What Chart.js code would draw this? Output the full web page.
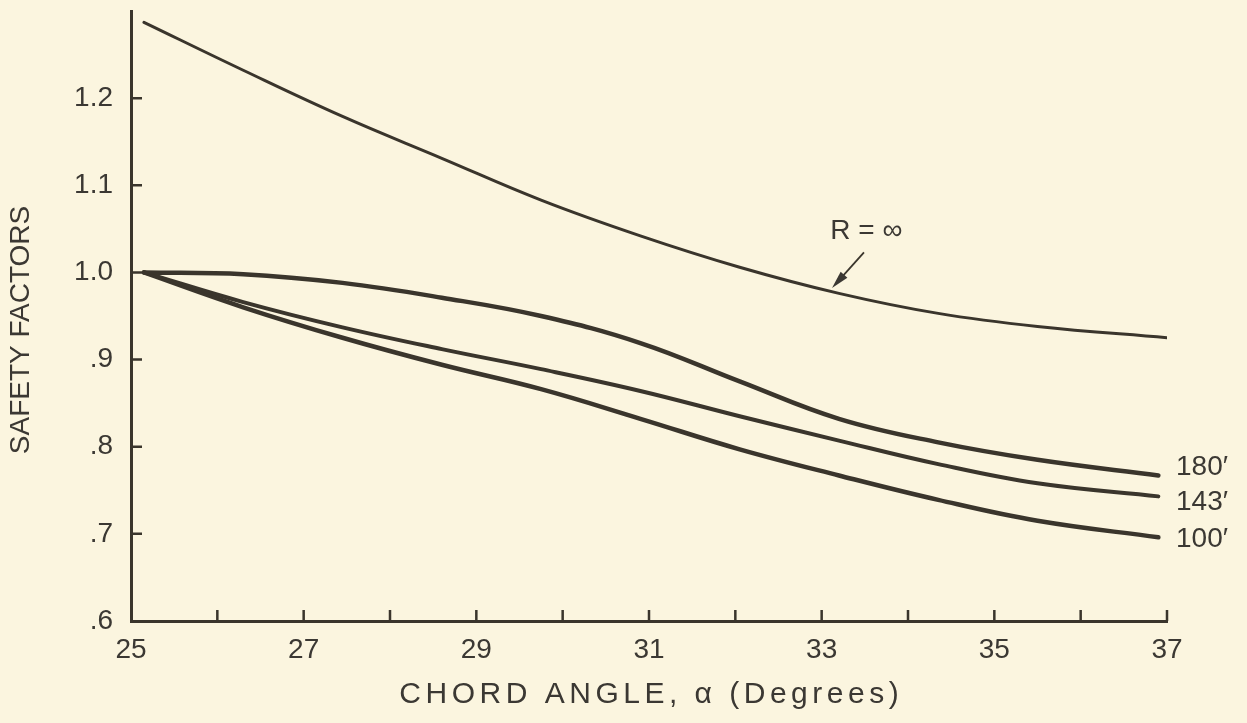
<!DOCTYPE html>
<html>
<head>
<meta charset="utf-8">
<script src="https://cdn.jsdelivr.net/npm/chart.js@4/dist/chart.umd.min.js"></script>
<style>
  html, body { margin: 0; padding: 0; background: #fbf5df; }
  #wrap { width: 1247px; height: 723px; }
</style>
</head>
<body>
<div id="wrap"><canvas id="chart" width="1247" height="723"></canvas></div>
<script>
// Chord angle (degrees) and safety factor for each radius
const chordAngle = [25.15, 26.3, 27.45, 28.6, 29.75, 30.9, 32.05, 33.2, 34.35, 35.5, 36.9];
const infAngle   = [25.15, 26.3, 27.45, 28.6, 29.75, 30.9, 32.05, 33.2, 34.35, 35.5, 37.0];

const rInfSF = [1.287, 1.232, 1.179, 1.131, 1.083, 1.042, 1.006, 0.976, 0.953, 0.938, 0.925];
const r180SF = [1.0, 0.998, 0.988, 0.971, 0.950, 0.919, 0.875, 0.832, 0.805, 0.785, 0.767];
const r143SF = [1.0, 0.966, 0.937, 0.912, 0.889, 0.864, 0.835, 0.807, 0.780, 0.758, 0.743];
const r100SF = [1.0, 0.960, 0.925, 0.894, 0.866, 0.832, 0.797, 0.767, 0.739, 0.715, 0.696];

const curveLabels = ["180\u2032", "143\u2032", "100\u2032"];
const curveLabelSF = [0.776, 0.736, 0.694];

const xTicks = [25, 26, 27, 28, 29, 30, 31, 32, 33, 34, 35, 36, 37];
const yTicks = [0.6, 0.7, 0.8, 0.9, 1.0, 1.1, 1.2];

const xTitle = "CHORD ANGLE, \u03B1 (Degrees)";
const yTitle = "SAFETY FACTORS";
const infLabel = "R = \u221E";
const infLabelAt = { x: 33.1, y: 1.047 };
const infArrowFrom = { x: 33.49, y: 1.023 };
const infArrowTo = { x: 33.12, y: 0.982 };

const ink = "#3a352c";
const textInk = "#3b3833";
const fontFamily = "'Liberation Sans', Arial, Helvetica, sans-serif";

const pts = (xs, ys) => xs.map((x, i) => ({ x, y: ys[i] }));

// draw a centred string with extra space between the letters
function spacedText(ctx, text, cx, cy, spacing) {
  const chars = Array.from(text);
  const widths = chars.map(c => ctx.measureText(c).width);
  const total = widths.reduce((a, b) => a + b, 0) + spacing * (chars.length - 1);
  let x = cx - total / 2;
  ctx.textAlign = "left";
  ctx.textBaseline = "middle";
  chars.forEach((c, i) => {
    ctx.fillText(c, x, cy);
    x += widths[i] + spacing;
  });
}

const bgPlugin = {
  id: "paper",
  beforeDraw(chart) {
    const { ctx, width, height } = chart;
    ctx.save();
    ctx.fillStyle = "#fbf5df";
    ctx.fillRect(0, 0, width, height);
    ctx.restore();
  }
};

const decorPlugin = {
  id: "decor",
  afterDraw(chart) {
    const { ctx, chartArea } = chart;
    const xs = chart.scales.x, ys = chart.scales.y;
    ctx.save();
    // inward tick marks
    ctx.strokeStyle = ink;
    ctx.lineWidth = 2.5;
    ctx.beginPath();
    xTicks.slice(1).forEach(v => {
      const px = xs.getPixelForValue(v);
      ctx.moveTo(px, chartArea.bottom);
      ctx.lineTo(px, chartArea.bottom - 11);
    });
    yTicks.slice(1).forEach(v => {
      const py = ys.getPixelForValue(v);
      ctx.moveTo(chartArea.left, py);
      ctx.lineTo(chartArea.left + 11, py);
    });
    ctx.stroke();

    // curve labels at the right end
    ctx.fillStyle = textInk;
    ctx.font = "28px " + fontFamily;
    ctx.textAlign = "left";
    ctx.textBaseline = "middle";
    curveLabels.forEach((t, i) => {
      ctx.fillText(t, chartArea.right + 9, ys.getPixelForValue(curveLabelSF[i]));
    });

    // R = infinity label with arrow
    ctx.fillText(infLabel, xs.getPixelForValue(infLabelAt.x), ys.getPixelForValue(infLabelAt.y));
    const x0 = xs.getPixelForValue(infArrowFrom.x), y0 = ys.getPixelForValue(infArrowFrom.y);
    const x1 = xs.getPixelForValue(infArrowTo.x), y1 = ys.getPixelForValue(infArrowTo.y);
    const ang = Math.atan2(y1 - y0, x1 - x0);
    ctx.lineWidth = 1.8;
    ctx.beginPath();
    ctx.moveTo(x0, y0);
    ctx.lineTo(x1 - 12 * Math.cos(ang), y1 - 12 * Math.sin(ang));
    ctx.stroke();
    const headLen = 18, headW = 4.5;
    const bx = x1 - headLen * Math.cos(ang), by = y1 - headLen * Math.sin(ang);
    ctx.beginPath();
    ctx.moveTo(x1, y1);
    ctx.lineTo(bx + headW * Math.sin(ang), by - headW * Math.cos(ang));
    ctx.lineTo(bx - headW * Math.sin(ang), by + headW * Math.cos(ang));
    ctx.closePath();
    ctx.fill();

    // vertical axis title
    ctx.save();
    ctx.translate(21, 330);
    ctx.rotate(-Math.PI / 2);
    ctx.textAlign = "center";
    ctx.textBaseline = "middle";
    ctx.fillText(yTitle, 0, 0);
    ctx.restore();

    // horizontal axis title
    ctx.font = "30px " + fontFamily;
    spacedText(ctx, xTitle, (chartArea.left + chartArea.right) / 2, 695, 4.5);
    ctx.restore();
  }
};

const lineDefaults = {
  borderColor: ink,
  pointRadius: 0,
  fill: false,
  tension: 0.4,
  borderCapStyle: "round",
  borderJoinStyle: "round"
};

new Chart(document.getElementById("chart"), {
  type: "line",
  data: {
    datasets: [
      { ...lineDefaults, label: "R = \u221E", data: pts(infAngle, rInfSF), borderWidth: 3 },
      { ...lineDefaults, label: "180\u2032", data: pts(chordAngle, r180SF), borderWidth: 4.5 },
      { ...lineDefaults, label: "143\u2032", data: pts(chordAngle, r143SF), borderWidth: 4 },
      { ...lineDefaults, label: "100\u2032", data: pts(chordAngle, r100SF), borderWidth: 4.5 }
    ]
  },
  options: {
    responsive: false,
    animation: false,
    devicePixelRatio: 1,
    layout: { padding: { top: 11, right: 80, left: 0, bottom: 0 } },
    plugins: { legend: { display: false }, tooltip: { enabled: false } },
    scales: {
      x: {
        type: "linear",
        min: 25,
        max: 37,
        afterBuildTicks: s => { s.ticks = xTicks.map(v => ({ value: v })); },
        afterFit: s => { s.height = 102; s.paddingLeft = 0; s.paddingRight = 0; },
        border: { display: true, color: ink, width: 3 },
        grid: { display: false, drawOnChartArea: false, drawTicks: false },
        ticks: {
          autoSkip: false,
          maxRotation: 0,
          padding: 12,
          color: textInk,
          font: { family: fontFamily, size: 28 },
          callback: v => (v % 2 === 1 ? String(v) : "")
        }
      },
      y: {
        type: "linear",
        min: 0.6,
        max: 1.3,
        afterBuildTicks: s => { s.ticks = yTicks.map(v => ({ value: v })); },
        afterFit: s => { s.width = 131; s.paddingTop = 0; s.paddingBottom = 0; },
        border: { display: true, color: ink, width: 3 },
        grid: { display: false, drawOnChartArea: false, drawTicks: false },
        ticks: {
          padding: 18,
          color: textInk,
          font: { family: fontFamily, size: 28 },
          callback: v => (v >= 1 ? v.toFixed(1) : "." + Math.round(v * 10))
        }
      }
    }
  },
  plugins: [bgPlugin, decorPlugin]
});
</script>
</body>
</html>
